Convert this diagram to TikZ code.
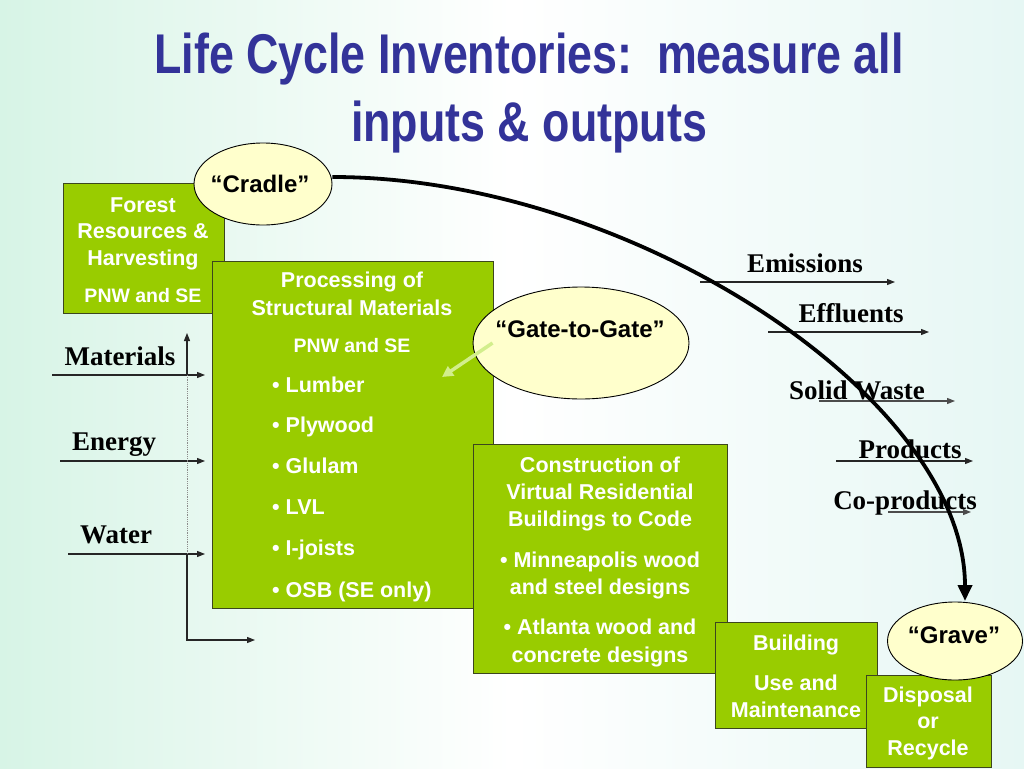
\documentclass[tikz,border=0pt]{standalone}
\usepackage{fontspec}
\setmainfont{Liberation Sans}
\newfontfamily\titlefont[FakeStretch=0.8]{Liberation Sans}
\newfontfamily\serifbf{Liberation Serif}
\usetikzlibrary{arrows.meta,shapes.geometric}
\definecolor{boxgreen}{RGB}{153,204,0}
\definecolor{boxedge}{RGB}{60,70,30}
\definecolor{ellfill}{RGB}{255,255,204}
\definecolor{titleblue}{RGB}{51,51,153}
\definecolor{bgmint}{RGB}{215,244,230}
\definecolor{bgright}{RGB}{230,247,244}
\definecolor{paleg}{RGB}{210,238,140}
\tikzset{
  gbox/.style={draw=boxedge, line width=1pt, fill=boxgreen, inner sep=0pt},
  ell/.style={ellipse, draw=black, line width=0.9pt, fill=ellfill, inner sep=0pt},
  wt/.style={anchor=base, text=white, font=\bfseries\fontsize{21.5}{26}\selectfont, inner sep=0pt},
  ws/.style={anchor=base, text=white, font=\bfseries\fontsize{19.5}{24}\selectfont, inner sep=0pt},
  wb/.style={anchor=base west, text=white, font=\bfseries\fontsize{21.5}{26}\selectfont, inner sep=0pt},
  et/.style={anchor=base, font=\bfseries\fontsize{24}{28}\selectfont, inner sep=0pt},
  lab/.style={anchor=base, font=\serifbf\bfseries\fontsize{27}{32}\selectfont, inner sep=0pt},
  ttl/.style={anchor=base, text=titleblue, font=\titlefont\bfseries\fontsize{56}{64}\selectfont, inner sep=0pt},
  thin/.style={line width=1.2pt, draw=black!85, -{Triangle[length=8pt,width=6pt]}},
}
\begin{document}
\begin{tikzpicture}[x=1pt,y=-1pt]
\useasboundingbox (0,0) rectangle (1024,768);
\fill[left color=bgmint, right color=bgright, middle color=white] (0,0) rectangle (1024,768);

% title
\node[ttl] (t1) at (529,74) {Life Cycle Inventories:\ \ measure all};
\node[ttl] (t2) at (529,141) {inputs \& outputs};

% output arrows and labels
\node[lab] (emis) at (805,272) {Emissions};
\coordinate (e1) at (700,282); \coordinate (e2) at (895,282);
\draw[thin] (e1) -- (e2);
\node[lab] (effl) at (851,322) {Effluents};
\coordinate (f1) at (768,332); \coordinate (f2) at (929,332);
\draw[thin] (f1) -- (f2);
\node[lab] (solid) at (857,399) {Solid Waste};
\coordinate (s1) at (819,401); \coordinate (s2) at (955,401);
\draw[thin,draw=black!70] (s1) -- (s2);
\node[lab] (prod) at (910,458) {Products};
\coordinate (p1) at (836,461); \coordinate (p2) at (973,461);
\draw[thin] (p1) -- (p2);
\node[lab] (coprod) at (905,509) {Co-products};
\coordinate (c1) at (888,512); \coordinate (c2) at (971,512);
\draw[thin,draw=black!70] (c1) -- (c2);

% input arrows and labels
\node[lab] (mat) at (120,365) {Materials};
\node[lab] (ene) at (114,450) {Energy};
\node[lab] (wat) at (116,543) {Water};
\coordinate (m1) at (52,375); \coordinate (m2) at (205,375);
\coordinate (n1) at (60,461); \coordinate (n2) at (205,461);
\coordinate (w1) at (68,554); \coordinate (w2) at (205,554);
\draw[thin] (m1) -- (m2);
\draw[thin] (n1) -- (n2);
\draw[thin] (w1) -- (w2);
\coordinate (vtop) at (187,333);
\coordinate (vm) at (187,375);
\coordinate (vw) at (187,554);
\coordinate (vbot) at (187,640);
\coordinate (hend) at (255,640);
\draw[thin] (vm) -- (vtop);
\draw[black!45, line width=0.8pt, densely dotted] (vm) -- (vw);
\draw[thin] (vw) -- (vbot) -- (hend);

% boxes
\node[gbox, minimum width=161pt, minimum height=130pt] (forest) at (143.5,248) {};
\node[wt] at (143,212) {Forest};
\node[wt] at (143,238) {Resources \&};
\node[wt] at (143,265) {Harvesting};
\node[ws] at (143,302) {PNW and SE};

\node[gbox, minimum width=281pt, minimum height=347pt] (proc) at (352.5,434.5) {};
\node[wt] at (352,287) {Processing of};
\node[wt] at (352,315) {Structural Materials};
\node[ws] at (352,352) {PNW and SE};
\node[wb] at (272,392) {\textbullet\ Lumber};
\node[wb] at (272,432) {\textbullet\ Plywood};
\node[wb] at (272,473) {\textbullet\ Glulam};
\node[wb] at (272,514) {\textbullet\ LVL};
\node[wb] at (272,555) {\textbullet\ I-joists};
\node[wb] at (272,597) {\textbullet\ OSB (SE only)};

\node[ell, minimum width=138pt, minimum height=82pt] (cradle) at (263,184) {};
\node[et] at (260,192) {“Cradle”};

\node[gbox, minimum width=254pt, minimum height=229pt] (constr) at (600,558.5) {};
\node[wt] at (600,472) {Construction of};
\node[wt] at (600,499) {Virtual Residential};
\node[wt] at (600,526) {Buildings to Code};
\node[wt] at (600,567) {\textbullet\ Minneapolis wood};
\node[wt] at (600,594) {and steel designs};
\node[wt] at (600,634) {\textbullet\ Atlanta wood and};
\node[wt] at (600,662) {concrete designs};

\node[ell, minimum width=216pt, minimum height=112pt] (gate) at (581,343) {};
\node[et] at (580,337) {“Gate-to-Gate”};
\draw[paleg, line width=3.5pt, -{Triangle[length=11pt,width=11pt]}] (gate.west) ++(20,0) coordinate (g0) (g0) -- (442,377);

\node[gbox, minimum width=162pt, minimum height=106pt] (build) at (796,675) {};
\node[wt] at (796,650) {Building};
\node[wt] at (796,690) {Use and};
\node[wt] at (796,717) {Maintenance};

\node[gbox, minimum width=125pt, minimum height=92pt] (disp) at (928.5,721) {};
\node[wt] at (928,702) {Disposal};
\node[wt] at (928,728) {or};
\node[wt] at (928,755) {Recycle};

\node[ell, minimum width=135pt, minimum height=78pt] (grave) at (955,641) {};
\node[et] at (954,643) {“Grave”};

% cradle-to-grave arrow
\coordinate (gtop) at (965,601);
\draw[black, line width=3.8pt, -{Triangle[length=16pt,width=14pt]}]
  (cradle.east) ++(0,-7) coordinate (cs) (cs) .. controls (632,177) and (965,398) .. (gtop);
\end{tikzpicture}
\end{document}
